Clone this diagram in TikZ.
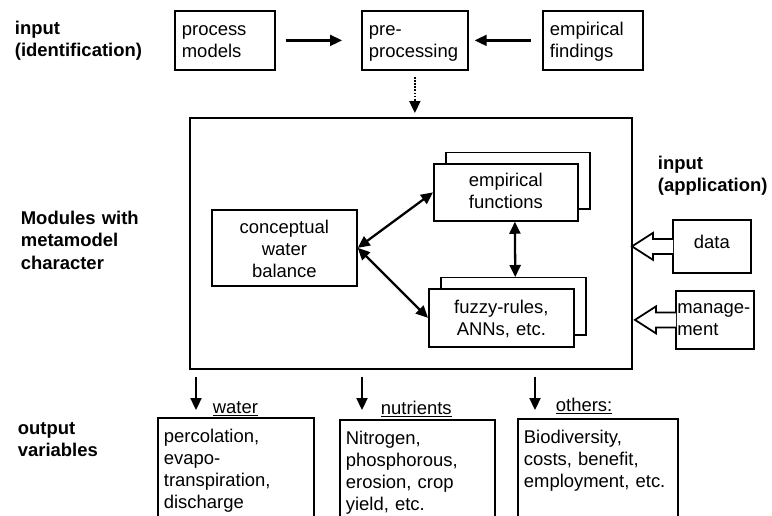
\documentclass[tikz,border=0pt]{standalone}
\usepackage{fontspec}
\setmainfont{Liberation Sans}
\usetikzlibrary{arrows.meta,calc,shadows}

% hollow input arrow pointing left, out of a box
\newcommand\inarrow[1]{%
  \draw[preaction={fill=white}] ($(#1.west)+(1,-7.5)$) -- ++(-20,0) -- ++(0,-6)
    -- ++(-21,13.5) -- ++(21,13.5) -- ++(0,-6) -- ++(20,0);}

\begin{document}
\begin{tikzpicture}[
   x=0.02cm, y=-0.02cm, line width=1pt,
   >={Triangle[length=0.24cm,width=0.22cm]},
   font=\fontsize{10.5}{12.5}\selectfont,
   lbl/.style={font=\fontsize{10.5}{13}\selectfont\bfseries, anchor=base west,
      inner sep=0, text width=3cm, align=left},
   blk/.style={draw, fill=white, anchor=north west, inner ysep=0},
   src/.style={blk, inner xsep=0.14cm, text width=1.72cm, align=left,
      text height=0.5cm, text depth=0.68cm},
   mod/.style={blk, inner xsep=0, align=center},
   stack/.style={mod, copy shadow={shadow xshift=0.25cm, shadow yshift=0.23cm}},
   outbox/.style={blk, inner xsep=0.12cm, align=left, text height=0.5cm, text depth=1.8cm},
   lab/.style={anchor=base west, inner sep=0},
   link/.style={line width=1.3pt}
]
   \path[use as bounding box, fill=white] (0,0) rectangle (772,515);
   \clip (0,0) rectangle (772,515);

   % identification
   \node[lbl] (inid) at (14,34) {input\\(identification)};
   \node[src] (pm) at (174,10) {process\\models};
   \node[src, text width=1.84cm] (pre) at (361,10) {pre-\\processing};
   \node[src] (find) at (542,10) {empirical\\findings};
   \path[->, link] (pm) edge [shorten <=0.2cm, shorten >=0.38cm] (pre)
             (find) edge [shorten <=0.22cm, shorten >=0.12cm] (pre);

   % metamodel
   \node[blk, inner sep=0, minimum width=8.84cm, minimum height=5.02cm] (main) at (189,117) {};
   \draw[->, link, dash pattern=on 1pt off 0.8pt, shorten <=0.12cm, shorten >=0.08cm]
      (pre) -- (pre |- main.north);
   \node[lbl] (mods) at (20,224) {Modules with\\metamodel\\character};
   \node[mod, text width=2.9cm, text height=0.48cm, text depth=1.04cm] (cwb) at (211,209)
      {conceptual\\water\\balance};
   \node[stack, text width=2.88cm, text height=0.46cm, text depth=0.68cm] (func) at (433,163)
      {empirical\\functions};
   \node[stack, text width=2.9cm, text height=0.5cm, text depth=0.66cm] (fuzzy) at (428,288)
      {fuzzy-rules,\\ANNs, etc.};
   \path[<->, link] (cwb.east) edge (func.west)
                         edge (fuzzy.west);
   \draw[<->, link, shorten >=0.22cm] ([xshift=0.18cm]func.south) -- ([xshift=0.28cm]fuzzy.north);

   % application
   \node[lbl] (inap) at (657,169) {input\\(application)};
   \node[mod, text width=1.56cm, text height=0.58cm, text depth=0.48cm] (data) at (672,219) {data};
   \node[blk, inner xsep=0.03cm, text width=1.5cm, align=left, text height=0.46cm,
      text depth=0.7cm] (mgmt) at (675,290) {manage-\\ment};
   \inarrow{data}
   \inarrow{mgmt}

   % outputs
   \node[lbl] (outv) at (17,434) {output\\variables};
   \node[outbox, text width=2.88cm] (wat) at (157,417) {percolation,\\evapo-\\transpiration,\\discharge};
   \node[outbox, text width=2.86cm] (nut) at (339,419) {Nitrogen,\\phosphorous,\\erosion, crop\\yield, etc.};
   \node[outbox, text width=2.96cm] (oth) at (517,418) {Biodiversity,\\costs, benefit,\\employment, etc.};
   \node[lab] (watl) at (212,413) {\underline{water}};
   \node[lab] (nutl) at (380,414) {\underline{nutrients}};
   \node[lab] (othl) at (555,411) {\underline{others:}};
   \coordinate (wa) at (196,410);
   \coordinate (na) at (362,410);
   \coordinate (oa) at (535,410);
   \foreach \c in {wa,na,oa}
      \draw[->, link, shorten <=0.14cm] (\c |- main.south) -- (\c);
\end{tikzpicture}
\end{document}
